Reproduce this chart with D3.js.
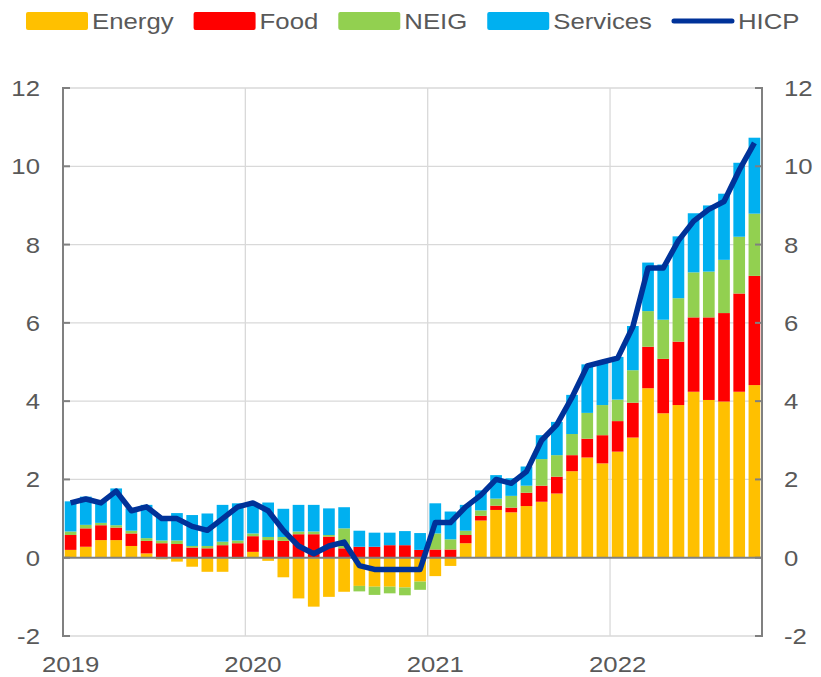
<!DOCTYPE html>
<html>
<head>
<meta charset="utf-8">
<script src="https://cdn.jsdelivr.net/npm/d3@7"></script>
<style>
  body { margin: 0; background: #fff; }
  text { font-family: "Liberation Sans", Arial, sans-serif; font-size: 23px; fill: #595959; }
</style>
</head>
<body>
<svg id="chart" width="821" height="677"></svg>
<script>
// months Jan 2019 .. Oct 2022
const months = d3.timeMonth.range(new Date(2019, 0, 1), new Date(2022, 10, 1));
const years = [2019, 2020, 2021, 2022];
const yTicks = [-2, 0, 2, 4, 6, 8, 10, 12];

const seriesNames = ['Energy', 'Food', 'NEIG', 'Services'];
const seriesColors = ['#FFC000', '#FF0000', '#92D050', '#00B0F0'];

const energy = [
    0.20, 0.28, 0.45, 0.45, 0.30, 0.11, -0.04, -0.10, -0.23, -0.36, -0.36, -0.03,
    0.15, -0.08, -0.50, -1.04, -1.25, -1.00, -0.87, -0.72, -0.74, -0.74, -0.76, -0.61,
    -0.47, -0.21, 0.37, 0.95, 1.22, 1.16, 1.32, 1.43, 1.64, 2.21, 2.56, 2.41,
    2.71, 3.07, 4.33, 3.69, 3.90, 4.24, 4.03, 3.99, 4.24, 4.41
];
const food = [
    0.38, 0.47, 0.38, 0.32, 0.32, 0.32, 0.37, 0.35, 0.26, 0.24, 0.32, 0.37,
    0.40, 0.45, 0.43, 0.60, 0.60, 0.54, 0.24, 0.28, 0.28, 0.32, 0.32, 0.20,
    0.21, 0.21, 0.21, 0.12, 0.11, 0.12, 0.34, 0.41, 0.43, 0.41, 0.48, 0.72,
    0.78, 0.89, 1.06, 1.39, 1.62, 1.90, 2.11, 2.26, 2.51, 2.79
];
const neig = [
    0.09, 0.09, 0.06, 0.06, 0.07, 0.07, 0.07, 0.09, 0.04, 0.06, 0.09, 0.07,
    0.07, 0.08, 0.10, 0.07, 0.07, 0.04, 0.51, -0.14, -0.21, -0.17, -0.20, -0.21,
    0.41, 0.26, 0.11, 0.14, 0.18, 0.30, 0.18, 0.68, 0.55, 0.54, 0.66, 0.77,
    0.55, 0.83, 0.91, 1.00, 1.11, 1.15, 1.17, 1.36, 1.45, 1.59
];
const services = [
    0.77, 0.72, 0.54, 0.94, 0.57, 0.85, 0.62, 0.70, 0.79, 0.83, 0.94, 0.95,
    0.77, 0.88, 0.72, 0.68, 0.68, 0.68, 0.54, 0.41, 0.36, 0.32, 0.36, 0.43,
    0.77, 0.71, 0.66, 0.51, 0.60, 0.45, 0.49, 0.61, 0.85, 1.00, 1.24, 1.11,
    1.09, 1.13, 1.24, 1.41, 1.58, 1.51, 1.69, 1.69, 1.89, 1.94
];
const hicp = [
    1.4, 1.5, 1.4, 1.7, 1.2, 1.3, 1.0, 1.0, 0.8, 0.7, 1.0, 1.3,
    1.4, 1.2, 0.7, 0.3, 0.1, 0.3, 0.4, -0.2, -0.3, -0.3, -0.3, -0.3,
    0.9, 0.9, 1.3, 1.6, 2.0, 1.9, 2.2, 3.0, 3.4, 4.1, 4.9, 5.0,
    5.1, 5.9, 7.4, 7.4, 8.1, 8.6, 8.9, 9.1, 9.9, 10.6
];

const svg = d3.select('#chart');
const plotLeft = 63, plotRight = 762, plotTop = 88, plotBottom = 636;
const axisColor = '#808080';
const gridColor = '#d9d9d9';
const textScale = 1.12;

const x = d3.scaleBand()
    .domain(months)
    .range([plotLeft, plotRight])
    .paddingInner(0.23)
    .paddingOuter(0.115);
const y = d3.scaleLinear().domain([-2, 12]).range([plotBottom, plotTop]);

function label(g, px, py, txt, anchor) {
    return g.append('text')
        .attr('transform', 'translate(' + px + ',' + py + ') scale(' + textScale + ',1)')
        .attr('text-anchor', anchor)
        .text(txt);
}

// gridlines
const grid = svg.append('g');
grid.selectAll('line.h')
    .data(yTicks.filter(d => d !== 0))
    .join('line')
    .attr('x1', plotLeft).attr('x2', plotRight)
    .attr('y1', d => y(d)).attr('y2', d => y(d))
    .attr('stroke', gridColor).attr('stroke-width', 1.3);
const yearStart = d => x(new Date(d, 0, 1)) - x.step() * x.paddingInner() / 2;
grid.selectAll('line.v')
    .data(years.slice(1))
    .join('line')
    .attr('x1', yearStart).attr('x2', yearStart)
    .attr('y1', plotTop).attr('y2', plotBottom)
    .attr('stroke', gridColor).attr('stroke-width', 1.3);

// stacked bars
const rows = months.map(function(m, i) {
    return { month: m, Energy: energy[i], Food: food[i], NEIG: neig[i], Services: services[i] };
});
const stacked = d3.stack().keys(seriesNames).offset(d3.stackOffsetDiverging)(rows);

svg.append('g')
    .selectAll('g')
    .data(stacked)
    .join('g')
    .attr('fill', (d, i) => seriesColors[i])
    .selectAll('rect')
    .data(d => d)
    .join('rect')
    .attr('x', d => x(d.data.month))
    .attr('width', x.bandwidth())
    .attr('y', d => y(Math.max(d[0], d[1])))
    .attr('height', d => Math.abs(y(d[0]) - y(d[1])));

// zero line
svg.append('line')
    .attr('x1', plotLeft).attr('x2', plotRight)
    .attr('y1', y(0)).attr('y2', y(0))
    .attr('stroke', axisColor).attr('stroke-width', 2);

// left and right axes with inward ticks
const axes = svg.append('g').attr('stroke', axisColor).attr('stroke-width', 2);
[plotLeft, plotRight].forEach(function(ax) {
    axes.append('line')
        .attr('x1', ax).attr('x2', ax)
        .attr('y1', plotTop - 1).attr('y2', plotBottom + 1);
    const dir = ax === plotLeft ? 1 : -1;
    axes.append('g')
        .selectAll('line')
        .data(yTicks)
        .join('line')
        .attr('x1', ax).attr('x2', ax + dir * 7)
        .attr('y1', d => y(d)).attr('y2', d => y(d));
});

// tick labels
const labels = svg.append('g');
yTicks.forEach(function(t) {
    label(labels, 40, y(t) + 8, String(t), 'end');
    label(labels, 784, y(t) + 8, String(t), 'start');
});
years.forEach(function(yr) {
    label(labels, x(new Date(yr, 0, 1)) + x.bandwidth() / 2, 672, String(yr), 'middle');
});

// HICP line
const line = d3.line()
    .x((d, i) => x(months[i]) + x.bandwidth() / 2)
    .y(d => y(d));
svg.append('path')
    .datum(hicp)
    .attr('d', line)
    .attr('fill', 'none')
    .attr('stroke', '#003299')
    .attr('stroke-width', 5.5)
    .attr('stroke-linejoin', 'round');

// legend
const legend = svg.append('g');
let lx = 26;
const legendItems = seriesNames.concat(['HICP']);
legendItems.forEach(function(name, i) {
    if (i < seriesNames.length) {
        legend.append('rect')
            .attr('x', lx).attr('y', 12)
            .attr('width', 62).attr('height', 18)
            .attr('rx', 2)
            .attr('fill', seriesColors[i]);
    } else {
        legend.append('line')
            .attr('x1', lx + 2).attr('x2', lx + 60)
            .attr('y1', 21).attr('y2', 21)
            .attr('stroke', '#003299')
            .attr('stroke-width', 5)
            .attr('stroke-linecap', 'round');
    }
    const t = label(legend, lx + 66, 29, name, 'start');
    lx += 66 + t.node().getComputedTextLength() * textScale + 20;
});
</script>
</body>
</html>
